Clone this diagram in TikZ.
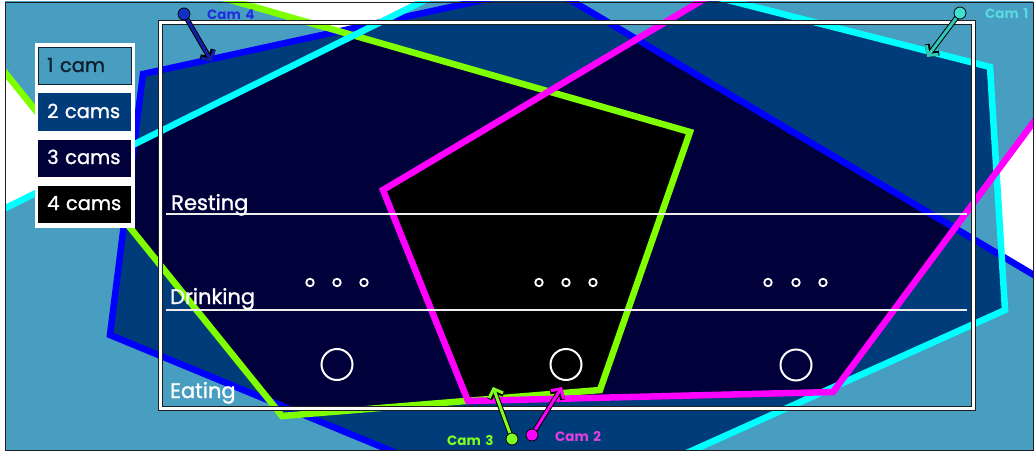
\documentclass[tikz,border=0pt]{standalone}
\usepackage{fontspec}
\setmainfont{Poppins}
\newfontfamily\medfont{Poppins}[FakeBold=1.2]
\usetikzlibrary{arrows.meta}
\definecolor{cone}{RGB}{72,158,192}
\definecolor{ctwo}{RGB}{0,60,122}
\definecolor{cthree}{RGB}{0,0,58}
\definecolor{cfour}{RGB}{0,0,0}
\definecolor{lcyan}{RGB}{0,255,255}
\definecolor{lmag}{RGB}{255,0,255}
\definecolor{lgreen}{RGB}{128,255,0}
\definecolor{lblue}{RGB}{0,0,255}
\definecolor{acyan}{RGB}{48,200,184}
\definecolor{dcyan}{RGB}{64,224,208}
\definecolor{tcyan}{RGB}{90,216,224}
\definecolor{ablue}{RGB}{16,32,170}
\definecolor{dblue}{RGB}{16,48,200}
\definecolor{tblue}{RGB}{32,48,224}
\definecolor{tmag}{RGB}{224,64,224}
\definecolor{tgreen}{RGB}{128,255,32}
\definecolor{framek}{RGB}{30,30,30}
\definecolor{tdark}{RGB}{16,32,48}
\begin{document}
\begin{tikzpicture}[x=1pt,y=-1pt,
  camline/.style={line width=6.5pt, line join=miter},
  legbox/.style={rectangle, inner sep=0pt, minimum width=93pt, minimum height=37pt},
  legtext/.style={anchor=base west, inner sep=0pt, font=\medfont\fontsize{19.5}{22}\selectfont},
  zonetext/.style={anchor=base west, inner sep=0pt, text=white, font=\medfont\fontsize{21}{24}\selectfont},
  camtext/.style={anchor=base west, inner sep=0pt, font=\fontsize{13.5}{16}\selectfont\bfseries},
  camdot/.style={circle, draw=black, line width=0.8pt, inner sep=0pt, minimum size=12pt},
  camtip/.style={-{Straight Barb[length=7pt,width=15pt]}},
  smalldot/.style={circle, draw=white, line width=1.8pt, inner sep=0pt, minimum size=7.5pt},
  feeder/.style={circle, draw=white, line width=2pt, inner sep=0pt, minimum size=31pt}]
\useasboundingbox (0,0) rectangle (1034,452);
\fill[white] (0,0) rectangle (1034,452);
\def\PCy{(528,-51) -- (990,67) -- (1005,310) -- (500,537) -- (-200,537) -- (-200,310) -- cycle}
\def\PMa{(383,190) -- (1458,-449) -- (833,392) -- (468,401) -- cycle}
\def\PGr{(-139,-106) -- (690,132) -- (600,390) -- (282,416) -- cycle}
\def\PBl{(143,74) -- (547,-14) -- (1300,433) -- (600,537) -- (110,335) -- cycle}
\begin{scope}
  \clip (5,2) rectangle (1033,450);
  % at least one camera
  \fill[cone] \PCy; \fill[cone] \PMa; \fill[cone] \PGr; \fill[cone] \PBl;
  % at least two cameras
  \begin{scope}\clip \PCy; \fill[ctwo] \PMa; \fill[ctwo] \PGr; \fill[ctwo] \PBl; \end{scope}
  \begin{scope}\clip \PMa; \fill[ctwo] \PGr; \fill[ctwo] \PBl; \end{scope}
  \begin{scope}\clip \PGr; \fill[ctwo] \PBl; \end{scope}
  % at least three cameras
  \begin{scope}\clip \PCy; \clip \PMa; \fill[cthree] \PGr; \fill[cthree] \PBl; \end{scope}
  \begin{scope}\clip \PCy; \clip \PGr; \fill[cthree] \PBl; \end{scope}
  \begin{scope}\clip \PMa; \clip \PGr; \fill[cthree] \PBl; \end{scope}
  % all four cameras
  \begin{scope}\clip \PCy; \clip \PMa; \clip \PGr; \fill[cfour] \PBl; \end{scope}
  % coverage outlines
  \draw[camline, lblue] \PBl;
  \draw[camline, lgreen] \PGr;
  \draw[camline, lcyan] \PCy;
  \draw[camline, lmag] \PMa;
\end{scope}
\draw[framek, line width=0.8pt] (5,2) rectangle (1033,450);
% pen frame
\draw[framek, line width=5pt] (160,23) rectangle (973,408);
\draw[white, line width=3pt] (160,23) rectangle (973,408);
% zone lines
\coordinate (r1) at (166,214); \coordinate (r2) at (967,214);
\coordinate (d1) at (166,310); \coordinate (d2) at (967,310);
\draw[white!93!black, line width=2pt] (r1) -- (r2);
\draw[white!93!black, line width=2pt] (d1) -- (d2);
\node[zonetext] (resting) at (171,210) {Resting};
\node[zonetext] (drinking) at (170,304) {Drinking};
\node[zonetext] (eating) at (170,398) {Eating};
% drinkers
\foreach \x [count=\i] in {310,337,364,539,566,593,768,796,823} {
  \node[smalldot] (drink\i) at (\x,282.5) {};
}
\node[feeder] (feed1) at (337,364.5) {};
\node[feeder] (feed2) at (566,364.5) {};
\node[feeder] (feed3) at (796,365) {};
% legend
\node[fill=white, inner sep=0pt, minimum width=100pt, minimum height=185pt, anchor=north west] (legend) at (35,43) {};
\node[legbox, fill=cone, draw=tdark, line width=1pt] (leg1) at (84.5,66.5) {};
\node[legbox, fill=ctwo] (leg2) at (84.5,112) {};
\node[legbox, fill=cthree] (leg3) at (84.5,158) {};
\node[legbox, fill=cfour] (leg4) at (84.5,204.5) {};
\node[legtext, text=tdark] (legt1) at (47,72) {1\,\,cam};
\node[legtext, text=white] (legt2) at (47,118) {2\,\,cams};
\node[legtext, text=white] (legt3) at (47,164) {3\,\,cams};
\node[legtext, text=white] (legt4) at (47,210) {4\,\,cams};
% cameras
\coordinate (cam4) at (184,14);  \coordinate (cam4t) at (212,62);
\coordinate (cam1) at (960,13);  \coordinate (cam1t) at (927,57);
\coordinate (cam3) at (512,439); \coordinate (cam3t) at (493,387);
\coordinate (cam2) at (532,435); \coordinate (cam2t) at (562,387);
\draw[camtip, black, line width=5pt] (cam4) -- (cam4t);
\draw[camtip, ablue, line width=3pt] (cam4) -- (cam4t);
\draw[camtip, black, line width=5pt] (cam1) -- (cam1t);
\draw[camtip, acyan, line width=3pt] (cam1) -- (cam1t);
\draw[camtip, black, line width=5pt] (cam3) -- (cam3t);
\draw[camtip, tgreen, line width=3pt] (cam3) -- (cam3t);
\draw[camtip, black, line width=5pt] (cam2) -- (cam2t);
\draw[camtip, lmag, line width=3pt] (cam2) -- (cam2t);
\node[camdot, fill=dblue] (cam4dot) at (cam4) {};
\node[camdot, fill=dcyan] (cam1dot) at (cam1) {};
\node[camdot, fill=tgreen] (cam3dot) at (cam3) {};
\node[camdot, fill=lmag] (cam2dot) at (cam2) {};
\node[camtext, text=tblue] (cam4lab) at (207,20) {Cam\,\,4};
\node[camtext, text=tcyan] (cam1lab) at (985,19) {Cam\,\,1};
\node[camtext, text=tgreen] (cam3lab) at (447,445) {Cam\,\,3};
\node[camtext, text=tmag] (cam2lab) at (555,441) {Cam\,\,2};
\end{tikzpicture}
\end{document}
